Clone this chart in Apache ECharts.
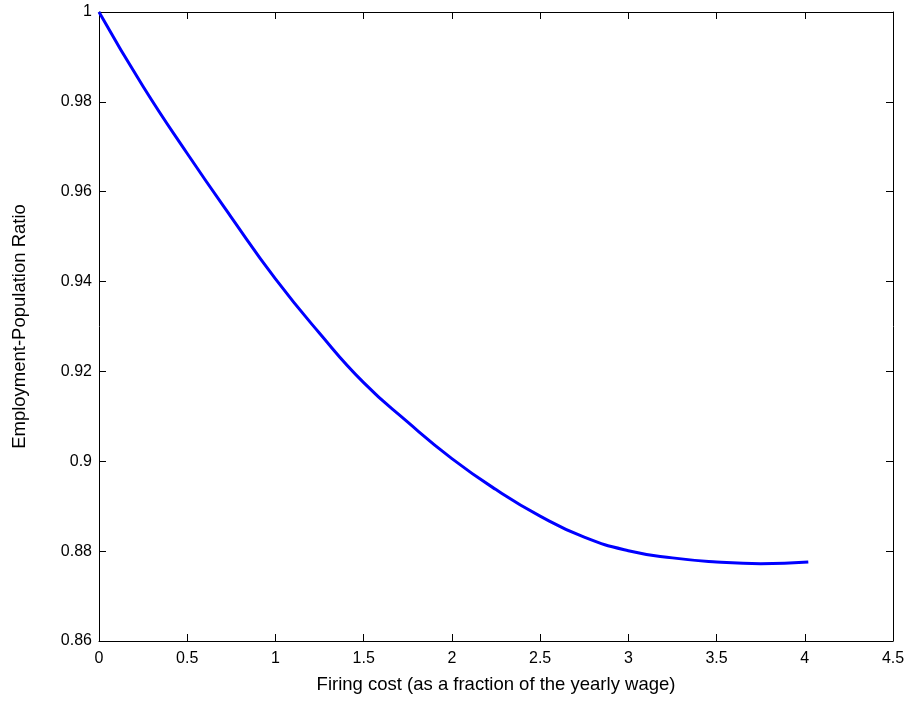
<!DOCTYPE html>
<html>
<head>
<meta charset="utf-8">
<script src="https://cdn.jsdelivr.net/npm/echarts@6/dist/echarts.min.js"></script>
<style>html,body{margin:0;padding:0;background:#fff}#c{width:905px;height:715px}</style>
</head>
<body>
<div id="c"></div>
<script>
const firingCost = [0, 0.25, 0.5, 0.75, 1.0, 1.25, 1.5, 1.75, 2.0, 2.25, 2.5, 2.75, 3.0, 3.25, 3.5, 3.75, 4.02];
const empRatio   = [1.0, 0.9834, 0.9685, 0.9543, 0.9406, 0.9285, 0.9175, 0.9087, 0.9006, 0.8937, 0.8878, 0.8831, 0.8801, 0.8785, 0.8776, 0.8772, 0.8776];
const xTicks = [0, 4.5, 0.5];
const yTicks = [0.86, 1, 0.02];
const xTitle = 'Firing cost (as a fraction of the yearly wage)';
const yTitle = 'Employment-Population Ratio';

const font = 'Liberation Sans, Arial, sans-serif';
const chart = echarts.init(document.getElementById('c'), null, {renderer: 'canvas'});
const axLine = {show: true, onZero: false, lineStyle: {color: '#000', width: 1}};
const tickIn = {show: true, inside: true, length: 7, lineStyle: {color: '#000'}};
const gridBox = {left: 99, top: 12, right: 12, bottom: 74, containLabel: false, outerBoundsMode: 'none'};
chart.setOption({
  animation: false,
  backgroundColor: '#fff',
  grid: [
    Object.assign({}, gridBox),
    Object.assign({}, gridBox)
  ],
  xAxis: [
    {type: 'value', gridIndex: 0, min: xTicks[0], max: xTicks[1], interval: xTicks[2], position: 'bottom',
     axisLine: axLine, axisTick: tickIn, splitLine: {show: false},
     axisLabel: {color: '#000', fontSize: 16, fontFamily: font, margin: 10},
     name: xTitle, nameLocation: 'middle', nameGap: 34,
     nameTextStyle: {color: '#000', fontSize: 18.5, fontFamily: font}},
    {type: 'value', gridIndex: 1, min: xTicks[0], max: xTicks[1], interval: xTicks[2], position: 'top',
     axisLine: axLine, axisTick: tickIn, axisLabel: {show: false}, splitLine: {show: false}}
  ],
  yAxis: [
    {type: 'value', gridIndex: 0, min: yTicks[0], max: yTicks[1], interval: yTicks[2], position: 'left',
     axisLine: axLine, axisTick: tickIn, splitLine: {show: false},
     axisLabel: {color: '#000', fontSize: 16, fontFamily: font, margin: 7},
     name: yTitle, nameLocation: 'middle', nameGap: 70,
     nameTextStyle: {color: '#000', fontSize: 18.5, fontFamily: font}},
    {type: 'value', gridIndex: 1, min: yTicks[0], max: yTicks[1], interval: yTicks[2], position: 'right',
     axisLine: axLine, axisTick: tickIn, axisLabel: {show: false}, splitLine: {show: false}}
  ],
  series: [{
    type: 'line', xAxisIndex: 0, yAxisIndex: 0, smooth: true, showSymbol: false,
    data: firingCost.map((x, i) => [x, empRatio[i]]),
    lineStyle: {color: '#0000ff', width: 3}
  }]
});
</script>
</body>
</html>
